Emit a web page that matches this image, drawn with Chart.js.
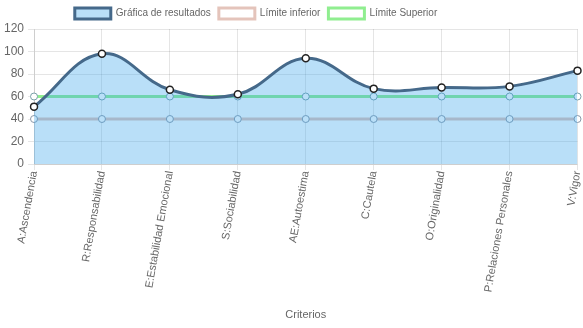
<!DOCTYPE html>
<html>
<head>
<meta charset="utf-8">
<script src="https://cdn.jsdelivr.net/npm/chart.js@4"></script>
<style>
  html, body { margin: 0; padding: 0; background: #fff; }
  #wrap { width: 583px; height: 328px; }
</style>
</head>
<body>
<div id="wrap"><canvas id="criteriosChart"></canvas></div>
<script>
const criterios = ['A:Ascendencia', 'R:Responsabilidad', 'E:Estabilidad Emocional', 'S:Sociabilidad',
    'AE:Autoestima', 'C:Cautela', 'O:Originalidad', 'P:Relaciones Personales', 'V:Vigor'];
const resultados = [51, 98, 66, 62, 94, 67, 68, 69, 83];
const limiteInferior = [40, 40, 40, 40, 40, 40, 40, 40, 40];
const limiteSuperior = [60, 60, 60, 60, 60, 60, 60, 60, 60];
const yTicks = { min: 0, max: 120, step: 20 };

Chart.defaults.font.family = 'Arial, "Liberation Sans", sans-serif';
Chart.defaults.font.size = 11;
Chart.defaults.color = '#666';

// the legend row sits a little left of the canvas centre
const legendShift = {
    id: 'legendShift',
    beforeDraw(chart) {
        const lg = chart.legend;
        lg.right = lg.left + 512;
    }
};

document.addEventListener('DOMContentLoaded', () => {
    const ctx = document.getElementById('criteriosChart').getContext('2d');
    new Chart(ctx, {
        type: 'line',
        data: {
            labels: criterios,
            datasets: [{
                label: 'Gráfica de resultados',
                data: resultados,
                borderColor: '#45698a',
                backgroundColor: 'rgba(54, 162, 235, 0.35)',
                borderWidth: 3,
                fill: 'origin',
                tension: 0.4,
                pointRadius: 3.5,
                pointBorderWidth: 1.5,
                pointBackgroundColor: '#fff',
                pointBorderColor: '#222'
            }, {
                label: 'Límite inferior',
                data: limiteInferior,
                borderColor: 'rgba(225, 190, 180, 0.9)',
                backgroundColor: '#fff',
                borderWidth: 3,
                fill: false,
                pointRadius: 3.5,
                pointBorderWidth: 1,
                pointBackgroundColor: '#fff',
                pointBorderColor: '#8a98a8'
            }, {
                label: 'Límite Superior',
                data: limiteSuperior,
                borderColor: 'rgba(144, 238, 144, 1)',
                backgroundColor: '#fff',
                borderWidth: 3,
                fill: false,
                pointRadius: 3.5,
                pointBorderWidth: 1,
                pointBackgroundColor: '#fff',
                pointBorderColor: '#7aa0a8'
            }]
        },
        options: {
            responsive: true,
            maintainAspectRatio: false,
            animation: false,
            layout: { padding: 0 },
            plugins: {
                legend: {
                    position: 'top',
                    labels: { boxWidth: 36, boxHeight: 11, padding: 8, font: { size: 10 } }
                },
                tooltip: { enabled: false }
            },
            scales: {
                x: {
                    offset: false,
                    grid: { color: 'rgba(0,0,0,0.1)', tickLength: 6 },
                    ticks: { maxRotation: 80, minRotation: 80, padding: 0 },
                    title: { display: true, text: 'Criterios', padding: { top: 4, bottom: 6 } },
                    // fixed band for the rotated category labels
                    afterFit: (scale) => {
                        scale.height = 164;
                        scale.paddingRight = 0;
                    }
                },
                y: {
                    min: yTicks.min,
                    max: yTicks.max,
                    grid: { color: 'rgba(0,0,0,0.1)', tickLength: 6 },
                    ticks: { stepSize: yTicks.step, padding: 4, font: { size: 12 } }
                }
            }
        },
        plugins: [legendShift]
    });
});
</script>
</body>
</html>
